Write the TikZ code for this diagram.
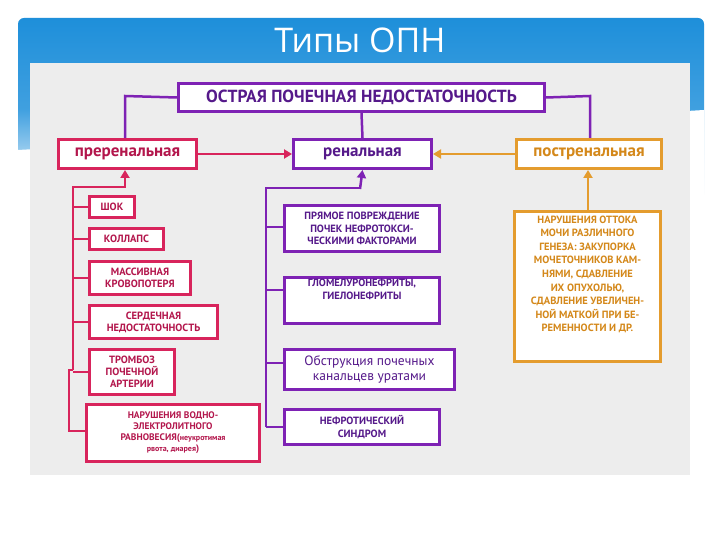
\documentclass[tikz,border=0pt]{standalone}
\usepackage{fontspec}
\setmainfont{PT Sans}
\newfontfamily\titlefont{Open Sans}
\usetikzlibrary{arrows.meta}
\definecolor{cr}{HTML}{D8245C}
\definecolor{crt}{HTML}{B3164C}
\definecolor{pu}{HTML}{7E22B4}
\definecolor{put}{HTML}{55198A}
\definecolor{orn}{HTML}{E49C2E}
\definecolor{ornt}{HTML}{D4881A}
\definecolor{bg}{HTML}{EDEDED}
\definecolor{bl}{HTML}{1E8FDA}
\tikzset{
 bx/.style={draw, line width=3pt, fill=white, inner sep=1pt, align=center, font=\bfseries, anchor=north west},
 crb/.style={bx, draw=cr, text=crt},
 pub/.style={bx, draw=pu, text=put},
 orb/.style={bx, draw=orn, text=ornt},
 ln/.style={line width=2.5pt},
 ar/.style={ln, -{Triangle[length=8pt,width=9pt]}},
}
\begin{document}
\begin{tikzpicture}[x=1pt,y=-1pt]
\useasboundingbox (0,0) rectangle (720,540);
\fill[white] (0,0) rectangle (720,540);
\shade[top color=bl, bottom color=white, middle color=bl!85, rounded corners=6pt] (18,18) rectangle (704,200);
\fill[white] (18,150) -- (704,110) -- (704,200) -- (18,200) -- cycle;
\node[text=white, font=\titlefont\fontsize{34}{34}\selectfont] (title) at (360,40) {Типы ОПН};
\fill[bg] (30,63) rectangle (690,475);
% level 1
\node[pub, minimum width=366pt, minimum height=28pt, font=\bfseries\fontsize{17.5}{17}\selectfont] (top) at (177,82) {ОСТРАЯ ПОЧЕЧНАЯ НЕДОСТАТОЧНОСТЬ};
\node[crb, minimum width=138pt, minimum height=29pt, font=\bfseries\fontsize{17}{17}\selectfont] (pre) at (57,138) {преренальная};
\node[pub, minimum width=138pt, minimum height=29pt, font=\bfseries\fontsize{17}{17}\selectfont] (ren) at (292,138) {ренальная};
\node[orb, minimum width=145pt, minimum height=29pt, font=\bfseries\fontsize{17}{17}\selectfont] (post) at (515,138) {постренальная};
\draw[ln, pu] (top.west) -- (125,96) -- (125,138);
\draw[ln, pu] (top.east) -- (590,96) -- (590,138);
\draw[ln, pu] (top.south) -- (ren.north);
\draw[ar, cr] (pre.east) -- (ren.west);
\draw[ar, orn] (post.west) -- (ren.east);
% prerenal list
\begin{scope}[every node/.style={crb, font=\bfseries\fontsize{10.5}{12}\selectfont}]
\node[minimum width=45pt, minimum height=21pt] (p1) at (88,195) {ШОК};
\node[minimum width=74pt, minimum height=21pt] (p2) at (88,227) {КОЛЛАПС};
\node[minimum width=101pt, minimum height=33pt] (p3) at (88,260) {МАССИВНАЯ\\КРОВОПОТЕРЯ};
\node[minimum width=128pt, minimum height=33pt] (p4) at (88,304) {СЕРДЕЧНАЯ\\НЕДОСТАТОЧНОСТЬ};
\node[minimum width=85pt, minimum height=45pt] (p5) at (88,348) {ТРОМБОЗ\\ПОЧЕЧНОЙ\\АРТЕРИИ};
\node[minimum width=173pt, minimum height=57pt, font=\bfseries\fontsize{9.5}{11}\selectfont] (p6) at (85,403) {НАРУШЕНИЯ ВОДНО-\\ЭЛЕКТРОЛИТНОГО\\РАВНОВЕСИЯ({\fontsize{8}{9}\selectfont неукротимая}\\{\fontsize{8}{9}\selectfont рвота, диарея})};
\end{scope}
\coordinate (pt) at (73,187);
\draw[ln, cr] (73,370) -- (pt) -- (125,187);
\draw[ar, cr] (125,188) -- (pre.south -| 125,0);
\foreach \n in {p1,p2,p3,p4,p5} \draw[ln, cr] (\n.west) -- (\n.west -| pt);
\draw[ln, cr] (73,370) -- (69,370) -- (69,431) -- (p6.west |- 0,431);
% renal list
\begin{scope}[every node/.style={pub, font=\bfseries\fontsize{10.5}{12.5}\selectfont}]
\node[minimum width=155pt, minimum height=46pt] (r1) at (283,204) {ПРЯМОЕ ПОВРЕЖДЕНИЕ\\ПОЧЕК НЕФРОТОКСИ-\\ЧЕСКИМИ ФАКТОРАМИ};
\node[minimum width=155pt, minimum height=46pt] (r2) at (283,276) {ГЛОМЕЛУРОНЕФРИТЫ,\\ГИЕЛОНЕФРИТЫ\\[10pt]};
\node[minimum width=170pt, minimum height=40pt, font=\fontsize{13.5}{15}\selectfont] (r3) at (283,348) {Обструкция почечных\\канальцев уратами};
\node[minimum width=155pt, minimum height=35pt] (r4) at (283,408) {НЕФРОТИЧЕСКИЙ\\СИНДРОМ};
\end{scope}
\coordinate (rt) at (266,188);
\draw[ln, pu] (266,427) -- (rt) -- (360,188);
\draw[ar, pu] (360,189) -- (ren.south);
\foreach \n/\y in {r1/227,r2/290,r3/363,r4/427} \draw[ln, pu] (266,\y) -- (283,\y);
% postrenal
\node[orb, minimum width=146pt, minimum height=150pt, font=\bfseries\fontsize{10.5}{13.5}\selectfont] (q1) at (513,210) {НАРУШЕНИЯ ОТТОКА\\МОЧИ РАЗЛИЧНОГО\\ГЕНЕЗА: ЗАКУПОРКА\\МОЧЕТОЧНИКОВ КАМ-\\НЯМИ, СДАВЛЕНИЕ\\ИХ ОПУХОЛЬЮ,\\СДАВЛЕНИЕ УВЕЛИЧЕН-\\НОЙ МАТКОЙ ПРИ БЕ-\\РЕМЕННОСТИ И ДР.\\[12pt]};
\draw[ar, orn] (q1.north -| 588,0) -- (post.south -| 588,0);
\end{tikzpicture}
\end{document}
